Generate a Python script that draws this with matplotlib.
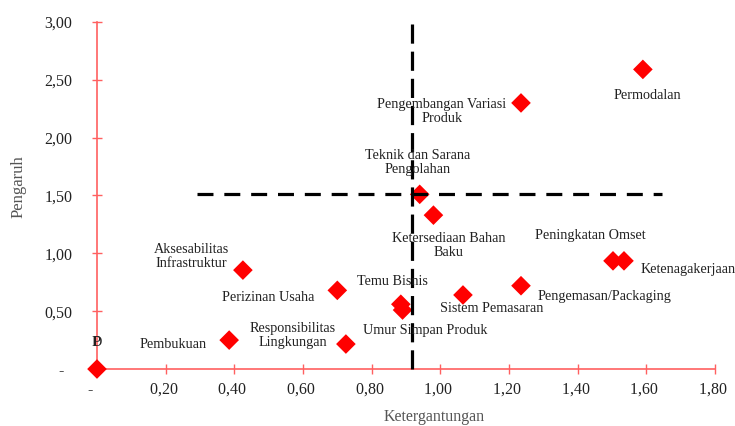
import matplotlib
matplotlib.use("Agg")
import matplotlib.pyplot as plt
from matplotlib.ticker import FixedLocator

plt.rcParams['font.family'] = ['Liberation Serif', 'DejaVu Serif']

# Data
labels = ["D", "Pembukuan", "Aksesabilitas\nInfrastruktur", "Perizinan Usaha",
          "Responsibilitas\nLingkungan", "Temu Bisnis", "Umur Simpan Produk",
          "Sistem Pemasaran", "Pengemasan/Packaging", "Peningkatan Omset",
          "Ketenagakerjaan", "Ketersediaan Bahan\nBaku", "Teknik dan Sarana\nPengolahan",
          "Pengembangan Variasi\nProduk", "Permodalan"]
ketergantungan = [0.00, 0.385, 0.425, 0.70, 0.725, 0.885, 0.89, 1.066, 1.235,
                  1.503, 1.535, 0.98, 0.94, 1.235, 1.59]
pengaruh = [0.00, 0.25, 0.855, 0.68, 0.216, 0.56, 0.51, 0.64, 0.72,
            0.935, 0.935, 1.33, 1.51, 2.30, 2.59]
x_mean = 0.918
y_mean = 1.51
h_line_x = [0.29, 1.645]
v_line_y = [0.0, 3.03]

x_ticks = [0, 0.2, 0.4, 0.6, 0.8, 1.0, 1.2, 1.4, 1.6, 1.8]
x_tick_labels = ["-   ", "0,20 ", "0,40 ", "0,60 ", "0,80 ", "1,00 ", "1,20 ", "1,40 ", "1,60 ", "1,80 "]
y_ticks = [0, 0.5, 1.0, 1.5, 2.0, 2.5, 3.0]
y_tick_labels = ["-  ", "0,50", "1,00", "1,50", "2,00", "2,50", "3,00"]

# label offsets in points (styling)
offsets = [(0, 19), (-40, -3), (-37, 10), (-50, -5), (-38, 6.5), (-6, 16.5), (16, -15),
           (21, -10), (60, -8), (-16, 18), (46, -6), (11, -22), (-1.5, 23), (-57, -6.5),
           (3.5, -19)]

fig = plt.figure(figsize=(7.35, 4.26), dpi=100)
ax = fig.add_axes([0.1086, 0.1066, 0.8875, 0.869])
ax.set_xlim(-0.05, 1.85)
ax.set_ylim(-0.1, 3.1)

ax.scatter(ketergantungan, pengaruh, marker='D', s=100, color='#ff0000',
           edgecolors='none', zorder=3, clip_on=False)

ax.plot(h_line_x, [y_mean, y_mean], color='black', lw=2.3, dashes=(5, 3.4), zorder=4)
ax.plot([x_mean, x_mean], v_line_y, color='black', lw=2.3, dashes=(6, 2.5), zorder=4)

for lab, x, y, off in zip(labels, ketergantungan, pengaruh, offsets):
    ax.annotate(lab, (x, y), xytext=off, textcoords='offset points',
                ha='center', va='center', fontsize=10.2, color='#222222',
                linespacing=1.1, zorder=5, annotation_clip=False)
# overlapping "P" at origin
ax.annotate("P", (0, 0), xytext=(0, 19), textcoords='offset points',
            ha='center', va='center', fontsize=10.2, color='#222222', zorder=5)

for side in ['top', 'right']:
    ax.spines[side].set_visible(False)
for side in ['left', 'bottom']:
    ax.spines[side].set_color('#ff6060')
    ax.spines[side].set_linewidth(1.2)
    ax.spines[side].set_position(('data', 0))
ax.spines['bottom'].set_bounds(0, 1.8)
ax.spines['left'].set_bounds(0, 3.0)

ax.xaxis.set_major_locator(FixedLocator(x_ticks))
ax.set_xticklabels(x_tick_labels)
ax.yaxis.set_major_locator(FixedLocator(y_ticks))
ax.set_yticklabels(y_tick_labels)
ax.tick_params(axis='both', direction='inout', length=6.5, width=1.0, color='#ff6060',
               labelsize=11.5, labelcolor='#222222')
ax.tick_params(axis='x', pad=6)
ax.tick_params(axis='y', pad=14.4)

ax.set_xlabel("Ketergantungan", fontsize=11.5, color='#555555')
ax.set_ylabel("Pengaruh", fontsize=12, color='#555555')
ax.xaxis.set_label_coords(0.543, -0.077)
ax.yaxis.set_label_coords(-0.081, 0.523)

fig.savefig("out.png", dpi=100)
